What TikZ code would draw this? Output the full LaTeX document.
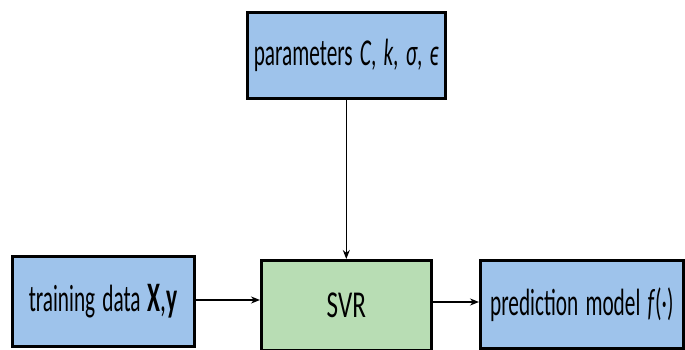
\documentclass[tikz,border=0pt]{standalone}
\usepackage{graphicx}
\usepackage{fontspec}
\setmainfont[WordSpace=1.5]{Carlito}
\usetikzlibrary{arrows.meta}
\definecolor{boxblue}{RGB}{158,195,235}
\definecolor{boxgreen}{RGB}{184,221,180}
\newcommand\sqz[2][0.58]{\scalebox{#1}[1]{#2}}
\tikzset{
  blk/.style={draw=black, line width=2.6pt, inner sep=0pt, anchor=north west, font=\fontsize{38}{40}\selectfont},
  conn/.style={-{Stealth[length=9pt,width=7pt]}, line width=2.2pt},
}
\begin{document}
\begin{tikzpicture}[x=1pt,y=-1pt]
\useasboundingbox (0,0) rectangle (685,350);
\node[blk, fill=boxblue, minimum width=198pt, minimum height=86pt] (par) at (246,11)
  {\sqz[0.56]{parameters \textit{C}, \textit{k}, \textit{σ}, \textit{ϵ}}};
\node[blk, fill=boxblue, minimum width=182pt, minimum height=90pt] (trn) at (11,255)
  {\sqz[0.56]{training data {\fontsize{42}{44}\selectfont\textbf{X},\textbf{y}}}};
\node[blk, fill=boxgreen, minimum width=170pt, minimum height=90pt] (svr) at (260,259)
  {\sqz[0.66]{SVR}};
\node[blk, fill=boxblue, minimum width=203pt, minimum height=88pt] (pred) at (479,259)
  {\sqz[0.56]{prediction model \textit{f}(·)}};
\draw[conn, line width=1.5pt] (par.south) -- (par.south |- svr.north);
\draw[conn] (trn.east |- 0,300) -- (svr.west |- 0,300);
\draw[conn] (svr.east |- 0,302) -- (pred.west |- 0,302);
\end{tikzpicture}
\end{document}
